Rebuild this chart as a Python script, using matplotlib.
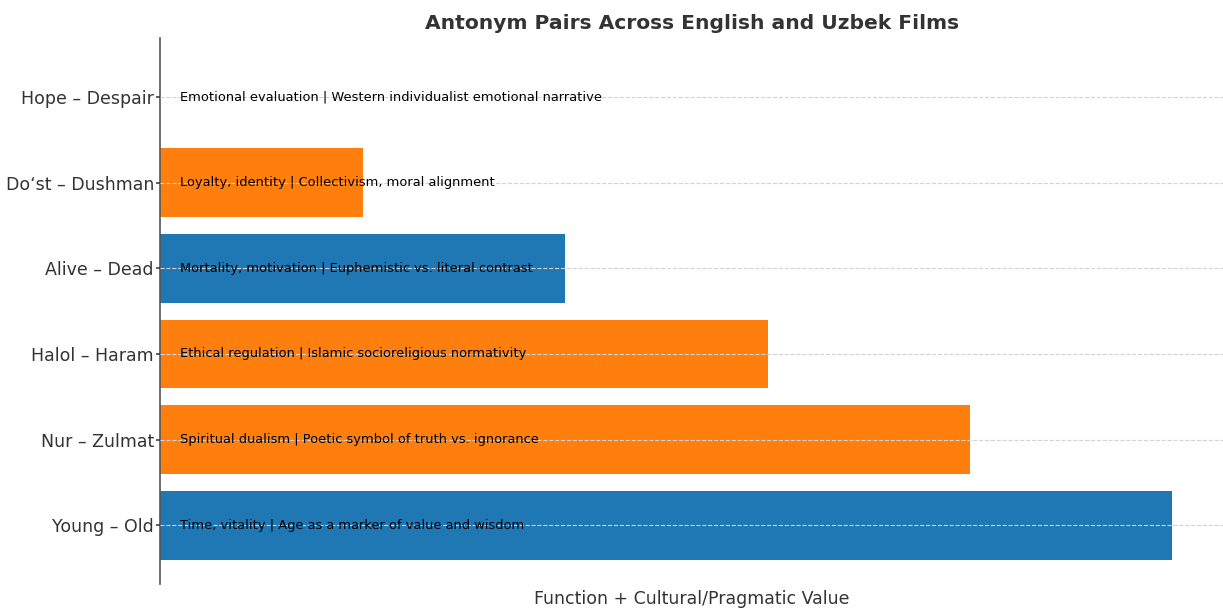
import matplotlib.pyplot as plt

# Antonym pairs, top to bottom as in the chart
pairs = ["Hope – Despair", "Do‘st – Dushman", "Alive – Dead",
         "Halol – Haram", "Nur – Zulmat", "Young – Old"]
scores = [0, 1, 2, 3, 4, 5]
language = ["English", "Uzbek", "English", "Uzbek", "Uzbek", "English"]
notes = [
    "Emotional evaluation | Western individualist emotional narrative",
    "Loyalty, identity | Collectivism, moral alignment",
    "Mortality, motivation | Euphemistic vs. literal contrast",
    "Ethical regulation | Islamic socioreligious normativity",
    "Spiritual dualism | Poetic symbol of truth vs. ignorance",
    "Time, vitality | Age as a marker of value and wisdom",
]
palette = {"English": "#1f77b4", "Uzbek": "#ff7f0e"}

fig, ax = plt.subplots(figsize=(12.23, 6.1), dpi=100)

ax.barh(pairs, scores, color=[palette[l] for l in language], height=0.8)
ax.invert_yaxis()

# annotations inside the bars
for i, txt in enumerate(notes):
    ax.text(0.1, i, txt, va="center", ha="left", fontsize=9.4, color="black")

ax.set_title("Antonym Pairs Across English and Uzbek Films",
             fontsize=14.6, fontweight="bold", color="#333333")
ax.set_xlabel("Function + Cultural/Pragmatic Value", fontsize=12.5, color="#333333")
ax.set_xticks([])
ax.tick_params(axis="y", labelsize=12.5, colors="#333333", length=3, pad=1.5,
               width=1.1)
ax.grid(axis="y", linestyle="--", color="lightgray", linewidth=0.8)
ax.set_axisbelow(False)

for s in ["top", "right", "bottom"]:
    ax.spines[s].set_visible(False)
ax.spines["left"].set_color("#555555")
ax.spines["left"].set_linewidth(1.2)

fig.subplots_adjust(left=0.131, right=1.0, top=0.938, bottom=0.042)
plt.savefig("out.png", dpi=100)
